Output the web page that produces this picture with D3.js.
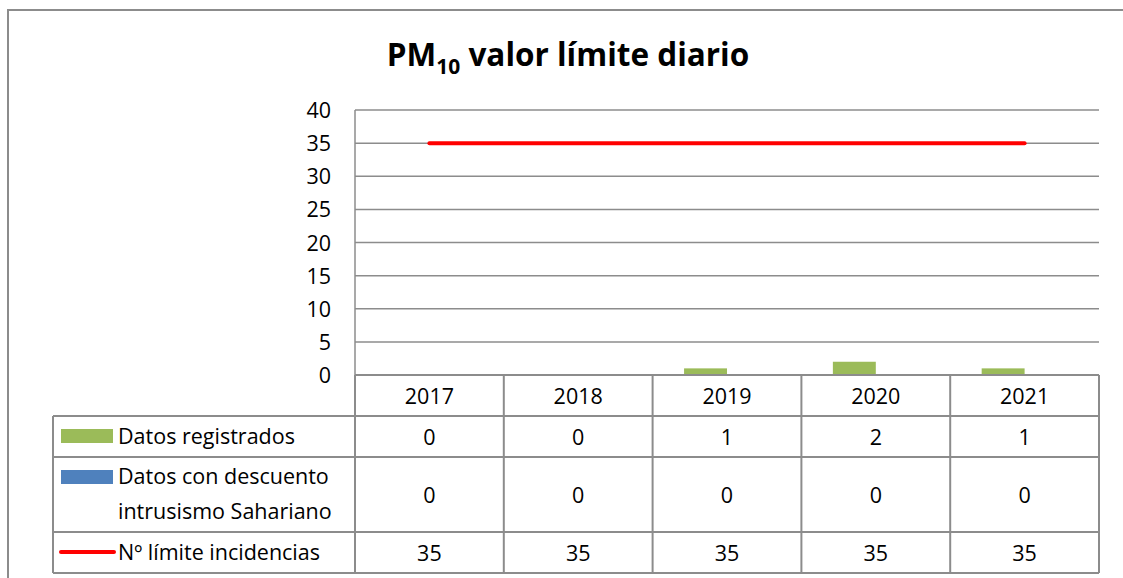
<!DOCTYPE html>
<html>
<head>
<meta charset="utf-8">
<script src="https://cdn.jsdelivr.net/npm/d3@7"></script>
<style>
  body { margin: 0; background: #fff; }
  svg text { font-family: "Open Sans", Lato, sans-serif; fill: #000; }
</style>
</head>
<body>
<svg id="chart" width="1123" height="578"></svg>
<script>
// data
const years = ['2017', '2018', '2019', '2020', '2021'];
const registrados = [0, 0, 1, 2, 1];
const descuento = [0, 0, 0, 0, 0];
const limite = [35, 35, 35, 35, 35];
const yTicks = [0, 5, 10, 15, 20, 25, 30, 35, 40];

const seriesNames = ['Datos registrados', 'Datos con descuento intrusismo Sahariano', 'Nº límite incidencias'];
const green = '#9bbb59';
const blue = '#4f81bd';
const red = '#ff0000';
const grid = '#8c8c8c';
const fs = 21.5;

const svg = d3.select('#chart');
const plot = { left: 355, right: 1099, top: 110, bottom: 375 };
const legendLeft = 53;
// table row boundaries
const rowsY = [375, 416, 457, 532, 573];

// scales
const x = d3.scaleBand().domain(years).range([plot.left, plot.right]);
const y = d3.scaleLinear().domain([0, 40]).range([plot.bottom, plot.top]);
const inner = d3.scaleBand().domain(['reg', 'desc']).range([0, x.bandwidth()]).paddingOuter(0.733);

// outer frame
svg.append('path')
  .attr('d', 'M8,578 V10 H1123')
  .attr('fill', 'none')
  .attr('stroke', '#8c8c8c')
  .attr('stroke-width', 2);

// title
const title = svg.append('text')
  .attr('x', 568)
  .attr('y', 66)
  .attr('text-anchor', 'middle')
  .attr('font-size', 31.5)
  .attr('font-weight', 'bold');
title.append('tspan').text('PM');
title.append('tspan').attr('font-size', 21).attr('dy', 8).text('10');
title.append('tspan').attr('dy', -8).text(' valor límite diario');

// gridlines
svg.append('g')
  .selectAll('line')
  .data(yTicks.filter(d => d > 0))
  .join('line')
  .attr('x1', plot.left)
  .attr('x2', plot.right)
  .attr('y1', d => y(d))
  .attr('y2', d => y(d))
  .attr('stroke', grid)
  .attr('stroke-width', 1.5);

// y axis labels
svg.append('g')
  .selectAll('text')
  .data(yTicks)
  .join('text')
  .attr('x', 331)
  .attr('y', d => y(d) + 8)
  .attr('text-anchor', 'end')
  .attr('font-size', fs)
  .text(d => d);

// vertical axis line
svg.append('line')
  .attr('x1', plot.left).attr('x2', plot.left)
  .attr('y1', plot.top).attr('y2', plot.bottom)
  .attr('stroke', grid).attr('stroke-width', 1.5);

// bars
svg.append('g')
  .selectAll('rect.reg')
  .data(registrados)
  .join('rect')
  .attr('x', (d, i) => x(years[i]) + inner('reg'))
  .attr('width', inner.bandwidth())
  .attr('y', d => y(d))
  .attr('height', d => y(0) - y(d))
  .attr('fill', green);

svg.append('g')
  .selectAll('rect.desc')
  .data(descuento)
  .join('rect')
  .attr('x', (d, i) => x(years[i]) + inner('desc'))
  .attr('width', inner.bandwidth())
  .attr('y', d => y(d))
  .attr('height', d => y(0) - y(d))
  .attr('fill', blue);

// limit line
svg.append('path')
  .datum(limite)
  .attr('fill', 'none')
  .attr('stroke', red)
  .attr('stroke-width', 4)
  .attr('stroke-linecap', 'round')
  .attr('d', d3.line().x((d, i) => x(years[i]) + x.bandwidth() / 2).y(d => y(d)));

// data table
const table = svg.append('g')
  .attr('fill', 'none')
  .attr('stroke', grid)
  .attr('stroke-width', 2);

// horizontal lines
rowsY.forEach((ry, i) => {
  table.append('line')
    .attr('x1', i === 0 ? plot.left : legendLeft)
    .attr('x2', plot.right)
    .attr('y1', ry).attr('y2', ry);
});
// vertical lines
[legendLeft, ...years.map(yr => x(yr)), plot.right].forEach((vx, i) => {
  table.append('line')
    .attr('x1', vx).attr('x2', vx)
    .attr('y1', i === 0 ? rowsY[1] : rowsY[0])
    .attr('y2', rowsY[4]);
});

// header years
svg.append('g')
  .selectAll('text')
  .data(years)
  .join('text')
  .attr('x', d => x(d) + x.bandwidth() / 2)
  .attr('y', (rowsY[0] + rowsY[1]) / 2 + 8)
  .attr('text-anchor', 'middle')
  .attr('font-size', fs)
  .text(d => d);

// value rows
[registrados, descuento, limite].forEach((vals, r) => {
  const cy = (rowsY[r + 1] + rowsY[r + 2]) / 2;
  svg.append('g')
    .selectAll('text')
    .data(vals)
    .join('text')
    .attr('x', (d, i) => x(years[i]) + x.bandwidth() / 2)
    .attr('y', cy + 8)
    .attr('text-anchor', 'middle')
    .attr('font-size', fs)
    .text(d => d);
});

// legend keys
const keyX = 61, keyW = 52, textX = 118;
svg.append('rect')
  .attr('x', keyX).attr('y', 429).attr('width', keyW).attr('height', 14)
  .attr('fill', green);
svg.append('text')
  .attr('x', textX).attr('y', 444).attr('font-size', fs)
  .text(seriesNames[0]);

svg.append('rect')
  .attr('x', keyX).attr('y', 470).attr('width', keyW).attr('height', 14)
  .attr('fill', blue);
const t2 = svg.append('text').attr('x', textX).attr('y', 484).attr('font-size', fs);
t2.append('tspan').text('Datos con descuento');
t2.append('tspan').attr('x', textX).attr('dy', 35).text('intrusismo Sahariano');

svg.append('line')
  .attr('x1', 61).attr('x2', 114).attr('y1', 552).attr('y2', 552)
  .attr('stroke', red).attr('stroke-width', 4).attr('stroke-linecap', 'round');
svg.append('text')
  .attr('x', textX).attr('y', 560).attr('font-size', fs)
  .text(seriesNames[2]);
</script>
</body>
</html>
